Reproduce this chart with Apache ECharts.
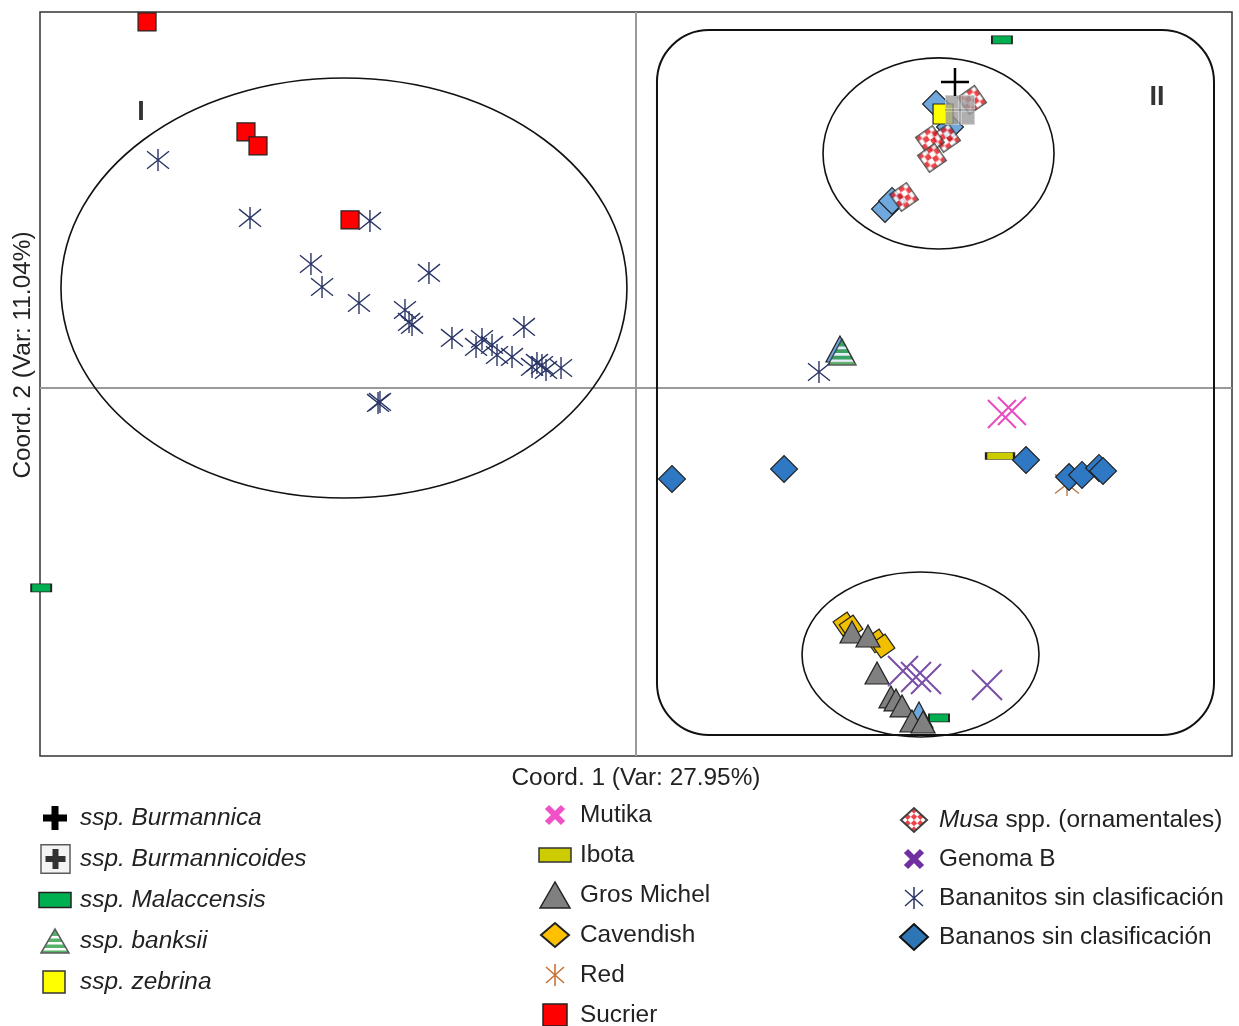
<!DOCTYPE html>
<html>
<head>
<meta charset="utf-8">
<script src="https://cdn.jsdelivr.net/npm/echarts@6/dist/echarts.min.js"></script>
<style>
  html, body { margin: 0; background: #fff; }
  #chart { width: 1239px; height: 1026px; }
</style>
</head>
<body>
<div id="chart"></div>
<script>
// PCoA coordinates (Coord. 1, Coord. 2 in arbitrary units)
const burmannica = [[26.76, 40.69]];
const burmannicoides = [[27.18, 36.97]];
const malaccensis = [[30.70, 46.28], [25.42, -43.94], [-49.9, -26.64]];
const banksii = [[17.28, 4.76]];
const zebrina = [[25.76, 36.43]];
const mutika = [[30.70, -3.49], [31.54, -3.09]];
const ibota = [[30.54, -9.08]];
const grosMichel = [[18.12, -32.50], [19.46, -33.03], [20.22, -37.95], [21.39, -41.14], [21.81, -41.54], [22.32, -42.34], [23.15, -44.34], [24.08, -44.47]];
const cavendish = [[17.53, -31.43], [18.04, -31.83], [20.22, -33.69], [20.72, -34.36]];
const red = [[36.16, -12.80]];
const sucrier = [[-41.02, 48.68], [-32.72, 34.04], [-31.71, 32.18], [-23.99, 22.33]];
const musa = [[28.19, 38.30], [26.01, 33.24], [24.66, 32.97], [24.83, 30.58], [22.48, 25.39]];
const genomaB = [[22.40, -37.68], [23.49, -38.48], [24.33, -38.75], [29.45, -39.55]];
const bananitos = [
  [-40.10, 30.31], [-32.38, 22.60], [-22.32, 22.20], [-27.27, 16.47], [-26.34, 13.41],
  [-17.37, 15.28], [-23.24, 11.28], [-19.38, 10.35], [-19.04, 8.76], [-18.79, 8.36],
  [-15.44, 6.63], [-13.42, 5.43], [-12.92, 6.49], [-12.08, 5.70], [-11.66, 4.36],
  [-10.40, 4.10], [-9.40, 8.09], [-8.72, 2.77], [-8.31, 3.30], [-7.89, 3.03],
  [-7.55, 2.37], [-6.29, 2.63], [-21.64, -2.02], [-21.48, -1.89], [15.35, 2.10]
];
const bananos = [[3.02, -12.14], [12.42, -10.81], [32.72, -9.61], [36.33, -11.87], [37.42, -11.60], [38.84, -10.67], [39.18, -11.07]];
// light-blue marks that have no legend entry
const otrosRombos = [[25.17, 37.76], [26.34, 34.70], [20.89, 23.79], [21.48, 24.86]];
const otrosTriangulos = [[17.11, 5.16], [23.74, -43.54]];

// group outlines: [cx, cy, rx, ry] and the rounded box [x1, y1, x2, y2]
const ellipses = [[-24.50, 13.28, 23.74, 27.94], [25.38, 31.18, 9.69, 12.71], [23.87, -35.49, 9.94, 10.98]];
const groupBox = [[1.76, 47.61, 48.49, -46.20]];
const groupLabels = [[-41.53, 36.57, 'I'], [43.71, 38.56, 'II']];

const col1 = ['ssp. Burmannica', 'ssp. Burmannicoides', 'ssp. Malaccensis', 'ssp. banksii', 'ssp. zebrina'];
const col2 = ['Mutika', 'Ibota', 'Gros Michel', 'Cavendish', 'Red', 'Sucrier'];
const col3 = ['Musa spp. (ornamentales)', 'Genoma B', 'Bananitos sin clasificación', 'Bananos sin clasificación'];

const FONT = 'Liberation Sans, Arial, sans-serif';
const FS = 24.4;

// ---- canvas-drawn symbols ----
function icon(w, h, draw) {
  const c = document.createElement('canvas');
  c.width = w; c.height = h;
  const g = c.getContext('2d');
  draw(g, w, h);
  return 'image://' + c.toDataURL();
}
function poly(g, pts) {
  g.beginPath();
  pts.forEach((p, i) => i ? g.lineTo(p[0], p[1]) : g.moveTo(p[0], p[1]));
  g.closePath();
}
function stripedTri(g, pts, top, bottom) {
  g.save();
  poly(g, pts); g.clip();
  g.fillStyle = '#2f9e44'; g.fill();
  g.fillStyle = '#fff';
  const step = (bottom - top) / 4;
  for (let k = 1; k < 4; k++) g.fillRect(0, top + k * step + 1, 100, step * 0.42);
  g.restore();
  poly(g, pts);
  g.strokeStyle = '#333'; g.lineWidth = 1.5; g.stroke();
}
function checker(g, cx, cy, cell, n, rot) {
  g.save();
  g.translate(cx, cy); g.rotate(rot);
  g.fillStyle = '#fff'; g.fillRect(-n * cell, -n * cell, 2 * n * cell, 2 * n * cell);
  g.fillStyle = '#e8141c';
  for (let i = -n; i < n; i++) for (let j = -n; j < n; j++)
    if ((i + j) % 2 === 0) g.fillRect(i * cell, j * cell, cell, cell);
  g.restore();
}
function lines(g, segs, color, lw) {
  g.strokeStyle = color; g.lineWidth = lw; g.lineCap = 'butt';
  g.beginPath();
  segs.forEach(s => { g.moveTo(s[0], s[1]); g.lineTo(s[2], s[3]); });
  g.stroke();
}

const musaSym = icon(22, 22, g => {
  checker(g, 11, 11, 5.5, 2, 0);
  g.strokeStyle = '#333'; g.lineWidth = 1.5; g.strokeRect(0.75, 0.75, 20.5, 20.5);
});
const banksiiSym = icon(30, 28, g => stripedTri(g, [[1, 27], [15, 1], [29, 27]], 1, 27));
const burmCoidesSym = icon(30, 30, g => {
  g.fillStyle = '#9c9c9c'; g.fillRect(0, 0, 30, 30);
  g.strokeStyle = '#c8c8c8'; g.lineWidth = 1; g.strokeRect(0.5, 0.5, 29, 29);
  lines(g, [[15, 0, 15, 30], [0, 15, 30, 15]], '#e6e6e6', 3);
  lines(g, [[15, 0, 15, 30], [0, 15, 30, 15]], '#444', 1);
});

const W = 40, H = 30;
const legendIcons = {
  'ssp. Burmannica': icon(W, H, g => { g.fillStyle = '#000'; g.fillRect(16.5, 3, 7, 24); g.fillRect(8, 11.5, 24, 7); }),
  'ssp. Burmannicoides': icon(W, H, g => {
    g.fillStyle = '#f2f2f2'; g.fillRect(6, 0.75, 29, 28.5);
    g.strokeStyle = '#333'; g.lineWidth = 1.5; g.strokeRect(6, 0.75, 29, 28.5);
    g.fillStyle = '#000'; g.fillRect(17.5, 5, 6, 20); g.fillRect(10.5, 12, 20, 6);
  }),
  'ssp. Malaccensis': icon(W, H, g => {
    g.fillStyle = '#00b050'; g.fillRect(4, 7.5, 32, 15);
    g.strokeStyle = '#222'; g.lineWidth = 1.5; g.strokeRect(4, 7.5, 32, 15);
  }),
  'ssp. banksii': icon(W, H, g => stripedTri(g, [[6, 27], [20, 3], [34, 27]], 3, 27)),
  'ssp. zebrina': icon(W, H, g => {
    g.fillStyle = '#ffff00'; g.fillRect(8, 4, 22, 22);
    g.strokeStyle = '#333'; g.lineWidth = 1.5; g.strokeRect(8, 4, 22, 22);
  }),
  'Mutika': icon(W, H, g => lines(g, [[12, 7, 28, 23], [12, 23, 28, 7]], '#f050c8', 6)),
  'Ibota': icon(W, H, g => {
    g.fillStyle = '#cccc00'; g.fillRect(4, 8, 32, 14);
    g.strokeStyle = '#333'; g.lineWidth = 1.5; g.strokeRect(4, 8, 32, 14);
  }),
  'Gros Michel': icon(W, H, g => {
    poly(g, [[5, 28], [20, 2], [35, 28]]);
    g.fillStyle = '#808080'; g.fill(); g.strokeStyle = '#222'; g.lineWidth = 1.5; g.stroke();
  }),
  'Cavendish': icon(W, H, g => {
    poly(g, [[6, 15], [20, 3], [34, 15], [20, 27]]);
    g.fillStyle = '#ffc000'; g.fill(); g.strokeStyle = '#222'; g.lineWidth = 2; g.stroke();
  }),
  'Red': icon(W, H, g => lines(g, [[20, 4, 20, 26], [11, 7, 29, 23], [11, 23, 29, 7]], '#c8743a', 1.6)),
  'Sucrier': icon(W, H, g => {
    g.fillStyle = '#ff0000'; g.fillRect(8, 4, 24, 22);
    g.strokeStyle = '#222'; g.lineWidth = 1.5; g.strokeRect(8, 4, 24, 22);
  }),
  'Musa spp. (ornamentales)': icon(W, H, g => {
    g.save(); poly(g, [[7, 15], [20, 3], [33, 15], [20, 27]]); g.clip();
    checker(g, 20, 15, 4.5, 3, Math.PI / 4); g.restore();
    poly(g, [[7, 15], [20, 3], [33, 15], [20, 27]]);
    g.strokeStyle = '#111'; g.lineWidth = 2; g.stroke();
  }),
  'Genoma B': icon(W, H, g => lines(g, [[12, 7, 28, 23], [12, 23, 28, 7]], '#7030a0', 6)),
  'Bananitos sin clasificación': icon(W, H, g => lines(g, [[20, 4, 20, 26], [11, 7, 29, 23], [11, 23, 29, 7]], '#2a3566', 1.5)),
  'Bananos sin clasificación': icon(W, H, g => {
    poly(g, [[6, 15], [20, 2], [34, 15], [20, 28]]);
    g.fillStyle = '#2e75b6'; g.fill(); g.strokeStyle = '#111'; g.lineWidth = 2; g.stroke();
  })
};

const ASTER = 'path://M0,-10L0,10M-10,-8L10,8M-10,8L10,-8';
const CROSS = 'path://M-10,-10L10,10M-10,10L10,-10';
const PLUS = 'path://M0,-10L0,10M-10,0L10,0';

function pts(name, data, symbol, size, itemStyle, extra) {
  return Object.assign({
    name, type: 'scatter', data, symbol, symbolSize: size, itemStyle,
    z: 3, silent: true, animation: false
  }, extra || {});
}
const edge = c => ({ color: c, borderColor: '#222', borderWidth: 1.2, opacity: 1 });
const stroke = (c, w) => ({ color: 'rgba(0,0,0,0)', borderColor: c, borderWidth: w, opacity: 1 });

const chart = echarts.init(document.getElementById('chart'));

const legendText = { fontFamily: FONT, fontSize: FS, color: '#222' };
function legendCol(names, left, top, gap, extraText, formatter) {
  return {
    data: names.map(n => ({ name: n, icon: legendIcons[n] })),
    orient: 'vertical', left, top, height: 260, padding: 0,
    itemWidth: W, itemHeight: H, itemGap: gap,
    selectedMode: false, formatter,
    textStyle: Object.assign({}, legendText, extraText || {})
  };
}

chart.setOption({
  animation: false,
  backgroundColor: '#fff',
  grid: { left: 40, top: 12, width: 1192, height: 744, show: true, borderColor: '#333', borderWidth: 1.5, backgroundColor: '#fff' },
  xAxis: {
    type: 'value', min: -50, max: 50,
    axisLine: { show: false, onZero: false }, axisTick: { show: false }, axisLabel: { show: false }, splitLine: { show: false },
    name: 'Coord. 1 (Var: 27.95%)', nameLocation: 'middle', nameGap: 10,
    nameTextStyle: { fontFamily: FONT, fontSize: FS, color: '#222' }
  },
  yAxis: {
    type: 'value', min: -49, max: 50,
    axisLine: { show: false, onZero: false }, axisTick: { show: false }, axisLabel: { show: false }, splitLine: { show: false },
    name: 'Coord. 2 (Var: 11.04%)', nameLocation: 'middle', nameGap: 5,
    nameTextStyle: { fontFamily: FONT, fontSize: FS, color: '#222', padding: [0, 0, 0, 58] }
  },
  legend: [
    legendCol(col1, 35, 803, 11, { fontStyle: 'italic' }),
    legendCol(col2, 535, 800, 10),
    legendCol(col3, 894, 805, 9, {
      rich: { i: { fontFamily: FONT, fontSize: FS, color: '#222', fontStyle: 'italic' } }
    }, n => n.indexOf('Musa ') === 0 ? '{i|Musa}' + n.slice(4) : n)
  ],
  series: [
    {
      type: 'scatter', name: 'grupos', data: groupLabels, symbolSize: 1, z: 1, silent: true,
      itemStyle: { color: 'rgba(0,0,0,0)' },
      label: { show: true, position: 'inside', formatter: p => p.value[2], fontFamily: FONT, fontSize: 27, fontWeight: 'bold', color: '#000' },
      markLine: {
        silent: true, z: 1, symbol: ['none', 'none'], label: { show: false },
        lineStyle: { color: '#9a9a9a', width: 2, type: 'solid' },
        data: [{ xAxis: 0 }, { yAxis: 0 }]
      }
    },
    {
      type: 'custom', name: 'caja', data: groupBox, z: 2, silent: true,
      renderItem: (params, api) => {
        const a = api.coord([api.value(0), api.value(1)]);
        const b = api.coord([api.value(2), api.value(3)]);
        return { type: 'rect', shape: { x: a[0], y: a[1], width: b[0] - a[0], height: b[1] - a[1], r: 52 },
          style: { fill: 'none', stroke: '#111', lineWidth: 2 } };
      }
    },
    {
      type: 'custom', name: 'elipses', data: ellipses, z: 2, silent: true,
      renderItem: (params, api) => {
        const c = api.coord([api.value(0), api.value(1)]);
        const s = api.size([api.value(2), api.value(3)]);
        return { type: 'ellipse', shape: { cx: c[0], cy: c[1], rx: s[0], ry: s[1] },
          style: { fill: 'none', stroke: '#111', lineWidth: 1.6 } };
      }
    },
    pts('otros rombos', otrosRombos, 'rect', 19, edge('#6fa8dc'), { symbolRotate: 45 }),
    pts('otros triangulos', otrosTriangulos, 'triangle', [28, 26], edge('#6fa8dc')),
    pts('Musa spp. (ornamentales)', musa, musaSym, 22, {}, { symbolRotate: 35 }),
    pts('ssp. zebrina', zebrina, 'rect', 20, edge('#ffff00')),
    pts('ssp. Burmannicoides', burmannicoides, burmCoidesSym, 30, {}),
    pts('ssp. Burmannica', burmannica, PLUS, 28, stroke('#000', 2.5)),
    pts('ssp. Malaccensis', malaccensis, 'rect', [20, 8], edge('#00b050')),
    pts('ssp. banksii', banksii, banksiiSym, [30, 28], {}),
    pts('Bananitos sin clasificación', bananitos, ASTER, 22, stroke('#2a3566', 1.4)),
    pts('Cavendish', cavendish, 'rect', 17, edge('#f0c000'), { symbolRotate: 35 }),
    pts('Gros Michel', grosMichel, 'triangle', [24, 22], edge('#808080')),
    pts('Mutika', mutika, CROSS, 28, stroke('#e84dbf', 2)),
    pts('Ibota', ibota, 'rect', [28, 7], edge('#cccc00')),
    pts('Red', red, ASTER, 24, stroke('#b87a4a', 1.4)),
    pts('Bananos sin clasificación', bananos, 'rect', 19, edge('#2f78c4'), { symbolRotate: 45 }),
    pts('Genoma B', genomaB, CROSS, 30, stroke('#7a4fa8', 2)),
    pts('Sucrier', sucrier, 'rect', 18, edge('#ff0000'))
  ]
});
</script>
</body>
</html>
